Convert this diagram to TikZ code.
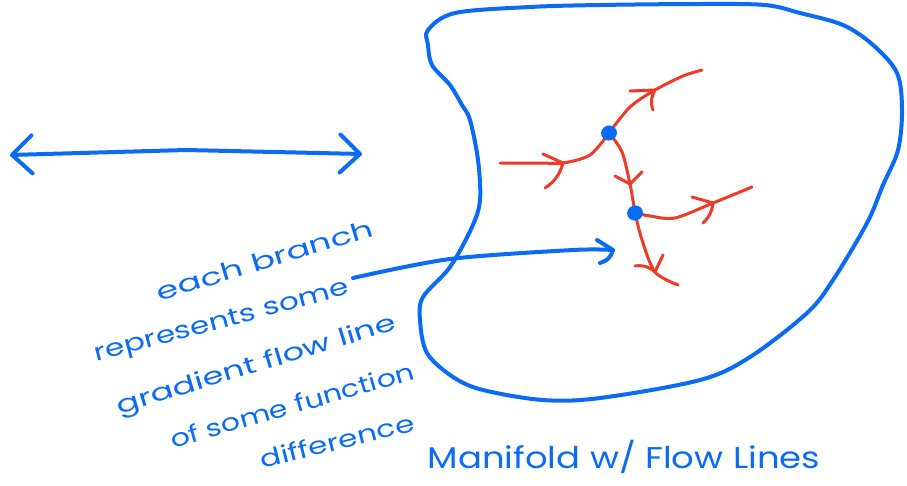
\documentclass[tikz,border=0pt]{standalone}
\usepackage{fontspec}
\setmainfont{Poppins}
\usetikzlibrary{arrows.meta,shapes.geometric}
\definecolor{pen}{HTML}{0A6CF5}
\definecolor{redpen}{HTML}{EE3A26}
\begin{document}
\begin{tikzpicture}[x=1pt,y=-1pt,
  bluepen/.style={draw=pen,line width=4pt,line cap=round,line join=round},
  redline/.style={draw=redpen,line width=3pt,line cap=round,line join=round},
  hand/.style={text=pen,inner sep=0pt,font=\fontsize{24}{24}\selectfont},
  crit/.style={ellipse,fill=pen,minimum width=16pt,minimum height=15pt,inner sep=0pt},
  bigbarb/.style={-{Straight Barb[length=20pt,width=38pt,line width=4pt,round]}}]
\useasboundingbox (0,0) rectangle (907,485);
\fill[white] (0,0) rectangle (907,485);
% manifold outline
\draw[bluepen] plot[smooth cycle, tension=0.55] coordinates {
 (428,30) (455,13) (530,7) (600,5) (700,4) (765,5) (800,13) (843,25) (873,45)
 (897,73) (902,110) (898,150) (883,185) (867,223) (833,280) (807,313) (750,357)
 (700,380) (600,398) (543,400) (483,390) (453,377) (427,353) (420,320) (423,297)
 (450,267) (472,227) (480,200) (478,160) (470,120) (462,105) (450,85) (432,65) (428,45)};
% critical points
\coordinate (c1) at (609,133);
\coordinate (c2) at (635,213);
% branch A (incoming)
\coordinate (a0) at (500,163);
\coordinate (a1) at (563,163);
\draw[redline] plot[smooth] coordinates {(a0) (540,163) (a1) (590,155) (c1)};
\draw[redline] (543,154) -- (a1) to[bend left=20] (545,188);
% branch B
\coordinate (b1) at (655,90);
\coordinate (b2) at (702,70);
\draw[redline] plot[smooth] coordinates {(c1) (630,107) (b1) (683,76) (b2)};
\draw[redline] (630,91) -- (b1) to[bend right=25] (653,110);
% branch C
\coordinate (k1) at (630,184);
\draw[redline] plot[smooth] coordinates {(c1) (622,152) (k1) (c2)};
\draw[redline] (615,176) -- (k1) -- (642,172);
% branch D
\coordinate (e1) at (713,203);
\coordinate (e2) at (752,187);
\draw[redline] plot[smooth] coordinates {(c2) (650,216) (675,218) (e1) (e2)};
\draw[redline] (692,197) -- (e1) to[bend left=20] (703,223);
% branch E
\coordinate (f1) at (655,272);
\coordinate (f2) at (678,285);
\draw[redline] plot[smooth] coordinates {(c2) (642,240) (f1) (f2)};
\draw[redline] (635,266) to[bend left=25] (f1) -- (663,255);
% dots
\node[crit,rotate=20] (d1) at (c1) {};
\node[crit,rotate=20] (d2) at (c2) {};
% double arrow
\coordinate (hl) at (10,155);
\coordinate (hr) at (362,154);
\draw[bluepen,bigbarb] (186,150) -- (hr);
\draw[bluepen,bigbarb] (186,150) -- (hl);
% text
\node[hand,rotate=17] (t1) at (265,260) {\scalebox{1.46}[1]{each branch}};
\node[hand,rotate=15] (t2) at (222,323) {\scalebox{1.3}[1]{represents some}};
\node[hand,rotate=17] (t3) at (257,366) {\scalebox{1.41}[1]{gradient flow line}};
\node[hand,rotate=16] (t4) at (292,405) {\scalebox{1.25}[1]{of some function}};
\node[hand,rotate=14] (t5) at (337,441) {\scalebox{1.3}[1]{difference}};
\node[hand,font=\fontsize{30}{30}\selectfont] (title) at (624,457) {\scalebox{1.18}[1]{Manifold w/ Flow Lines}};
% pointer arrow
\coordinate (p0) at (353,278);
\coordinate (p1) at (613,250);
\draw[bluepen] plot[smooth] coordinates {(p0) (450,259) (573,250) (p1)};
\draw[bluepen] (597,240) -- (p1) to[bend left=30] (600,263);
\end{tikzpicture}
\end{document}
